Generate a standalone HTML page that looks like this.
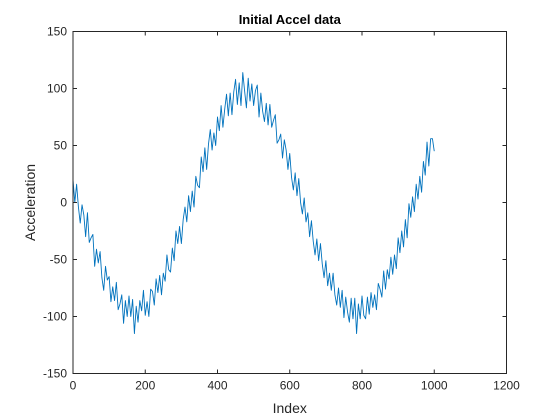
<!DOCTYPE html>
<html><head><meta charset="utf-8"><style>
body{margin:0;background:#fff;}
svg{display:block;font-family:"Liberation Sans",Arial,sans-serif;}
</style></head><body>
<svg id="chart" width="560" height="420"></svg>
<script>
const xTickValues=[0,200,400,600,800,1000,1200];
const yTickValues=[-150,-100,-50,0,50,100,150];
const sampleStep=5;
const accelValues=[20,0,16,-4,-18,-2,-11,-30,-9,-35,-31,-28,-56,-41,-53,-43,-66,-77,-56,-68,
-65,-87,-74,-86,-70,-94,-89,-81,-106,-86,-100,-82,-100,-85,-115,-91,-105,-86,-95,-77,
-99,-87,-100,-76,-78,-90,-67,-79,-64,-81,-62,-69,-46,-59,-61,-40,-51,-25,-36,-21,
-36,-15,-4,-17,6,-8,10,-4,23,15,13,40,27,48,29,51,64,46,61,50,
75,63,85,66,82,95,76,96,77,97,108,86,105,85,114,98,83,109,89,104,
85,98,103,75,96,80,71,87,68,86,66,72,77,52,55,60,39,55,46,29,
43,22,11,26,6,21,0,-10,4,-17,-9,-30,-16,-34,-46,-32,-51,-36,-54,-66,
-51,-73,-62,-77,-62,-81,-90,-75,-92,-77,-101,-83,-96,-105,-84,-102,-84,-115,-89,-102,
-82,-99,-102,-83,-98,-79,-92,-81,-94,-71,-76,-83,-60,-76,-59,-67,-48,-63,-46,-58,
-31,-44,-25,-39,-15,-31,-1,-13,5,-8,16,3,23,9,36,24,53,32,56,56,45];

const NS="http://www.w3.org/2000/svg";
const svg=document.getElementById('chart');
const L=73,R=506.5,T=31.5,B=373.5;
const xScale=v=>L+(v-0)/(1200-0)*(R-L);
const yScale=v=>B-(v+150)/300*(B-T);
function mk(tag,attrs){const e=document.createElementNS(NS,tag);for(const k in attrs)e.setAttribute(k,attrs[k]);svg.appendChild(e);return e;}

const bg=mk('rect',{x:L,y:T,width:R-L,height:B-T,fill:'#fff'});



let d='';
accelValues.forEach((v,i)=>{d+=(i?'L':'M')+xScale(i*sampleStep).toFixed(2)+' '+yScale(v).toFixed(2);});
const line=mk('path',{d:d,fill:'none',stroke:'#0072BD','stroke-width':0.9,'stroke-linejoin':'round'});



const box=mk('rect',{x:L,y:T,width:R-L,height:B-T,fill:'none',stroke:'#262626','stroke-width':1});



xTickValues.forEach(v=>{
  const x=xScale(v);
  const t1=mk('line',{x1:x,x2:x,y1:B,y2:B-4,stroke:'#262626'});
  
  
  const t2=mk('line',{x1:x,x2:x,y1:T,y2:T+4,stroke:'#262626'});
  
  
  const tx=mk('text',{x:x,y:B+16,'text-anchor':'middle','font-size':12,fill:'#262626'});
  tx.textContent=v;
  
  
});
yTickValues.forEach(v=>{
  const y=yScale(v);
  const t1=mk('line',{x1:L,x2:L+4,y1:y,y2:y,stroke:'#262626'});
  
  
  const t2=mk('line',{x1:R,x2:R-4,y1:y,y2:y,stroke:'#262626'});
  
  
  const tx=mk('text',{x:L-6,y:y+4,'text-anchor':'end','font-size':12,fill:'#262626'});
  tx.textContent=v;
  
  
});
const title=mk('text',{x:(L+R)/2,y:24,'text-anchor':'middle','font-size':13,'font-weight':'bold',fill:'#000'});
title.textContent='Initial Accel data';


const xl=mk('text',{x:(L+R)/2,y:413,'text-anchor':'middle','font-size':14,fill:'#262626'});
xl.textContent='Index';


const yl=mk('text',{x:0,y:0,'text-anchor':'middle','font-size':14,fill:'#262626',transform:'translate(35,'+((T+B)/2)+') rotate(-90)'});
yl.textContent='Acceleration';


</script>
</body></html>
